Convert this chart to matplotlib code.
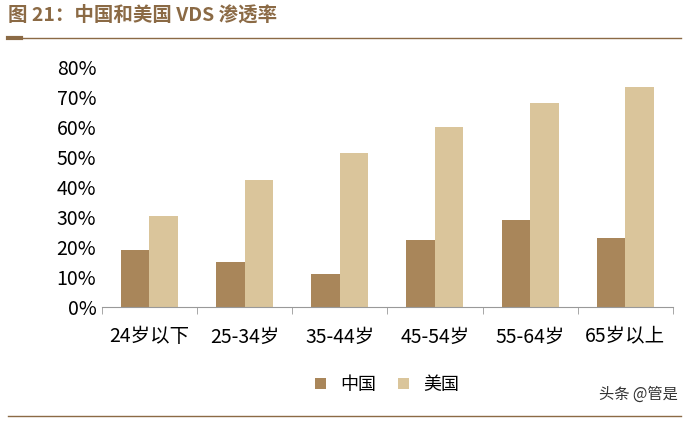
import matplotlib.pyplot as plt
import numpy as np

plt.rcParams['font.family'] = ['Noto Sans CJK SC', 'DejaVu Sans']

groups = ["24岁以下", "25-34岁", "35-44岁", "45-54岁", "55-64岁", "65岁以上"]
china = [19, 15, 11, 22.5, 29, 23]
usa = [30.5, 42.5, 51.5, 60, 68, 73.5]

fig = plt.figure(figsize=(6.88, 4.24), dpi=100)
ax = fig.add_axes([0.148, 0.276, 0.83, 0.565])

x = np.arange(len(groups))
w = 0.3
ax.bar(x - w / 2, china, w, color="#A9865A", label="中国")
ax.bar(x + w / 2, usa, w, color="#DAC59B", label="美国")

ax.set_ylim(0, 80)
ax.set_yticks(range(0, 81, 10))
ax.set_yticklabels([f"{v}%" for v in range(0, 81, 10)], fontsize=14)
ax.set_xticks(x)
ax.set_xticklabels(groups, fontsize=14)
ax.set_xlim(-0.5, 5.5)
for s in ["top", "right", "left"]:
    ax.spines[s].set_visible(False)
ax.spines["bottom"].set_color("#999999")
ax.tick_params(axis="y", length=0, pad=4)
ax.set_xticks(np.arange(-0.5, 6, 1), minor=True)
ax.tick_params(axis="x", which="major", length=0, pad=14)
ax.tick_params(axis="x", which="minor", length=5, color="#999999")

ax.legend(loc="upper center", bbox_to_anchor=(0.5, -0.22), ncol=2, frameon=False,
          fontsize=13, handlelength=0.6, handleheight=0.6, columnspacing=1.2)

fig.text(0.012, 0.965, "图 21：中国和美国 VDS 渗透率", fontsize=14, fontweight="bold",
         color="#8B6A45", va="center")
fig.add_artist(plt.Line2D([0.012, 0.99], [0.91, 0.91], color="#8B6A45", lw=1))
fig.add_artist(plt.Line2D([0.012, 0.03], [0.91, 0.91], color="#8B6A45", lw=3))
fig.add_artist(plt.Line2D([0.012, 0.99], [0.02, 0.02], color="#8B6A45", lw=1))
fig.text(0.87, 0.07, "头条 @管是", fontsize=11, color="#333333", va="center")

fig.savefig("out.png", dpi=100)
